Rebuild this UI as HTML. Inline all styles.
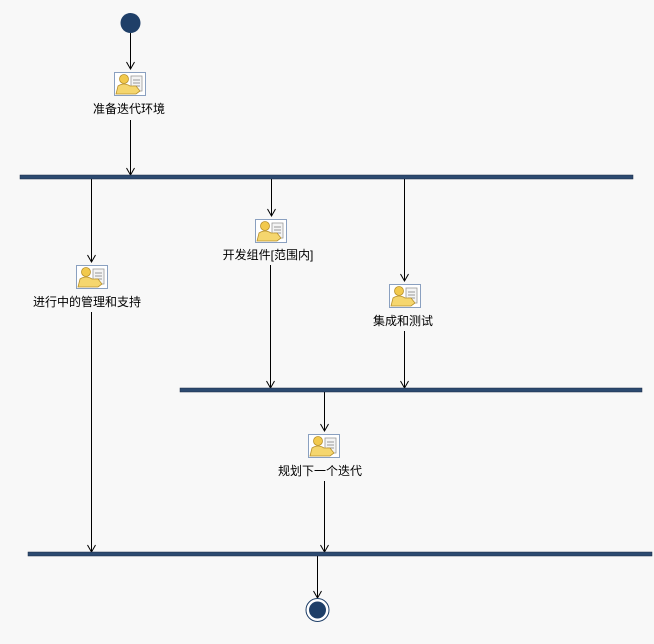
<!DOCTYPE html>
<html><head><meta charset="utf-8"><style>
html,body{margin:0;background:#f8f8f8;overflow:hidden;}
svg{display:block;}
svg text{font-family:"Liberation Sans","Noto Sans CJK SC",sans-serif;font-size:12px;fill:#000;}
</style></head><body>
<svg width="654" height="644" xmlns="http://www.w3.org/2000/svg">
<defs>
<marker id="a" markerWidth="10" markerHeight="10" refX="9" refY="5" orient="auto" markerUnits="userSpaceOnUse">
<path d="M2,1 L9,5 L2,9" fill="none" stroke="#000" stroke-width="1"/></marker>
<g id="ic">
<rect x="0.5" y="0.5" width="31" height="23" fill="#fff" stroke="#8aa0c0"/>
<rect x="17" y="4" width="11" height="15" fill="#f4f4f4" stroke="#999" stroke-width="0.8"/>
<line x1="19" y1="8" x2="26" y2="8" stroke="#999"/><line x1="19" y1="11" x2="26" y2="11" stroke="#999"/><line x1="19" y1="14" x2="26" y2="14" stroke="#999"/>
<circle cx="10" cy="7" r="4.5" fill="#f2c94c" stroke="#b8902a" stroke-width="0.8"/>
<path d="M2,22 L4,14 Q10,10 16,14 L22,14 L26,19 L22,22 Z" fill="#f5d66e" stroke="#b8902a" stroke-width="0.8"/>
</g>
</defs>
<g stroke="#000" stroke-width="1" fill="none" marker-end="url(#a)">
<line x1="130.5" y1="33" x2="130.5" y2="69"/>
<line x1="130.5" y1="120" x2="130.5" y2="175"/>
<line x1="91.5" y1="179" x2="91.5" y2="262"/>
<line x1="271.5" y1="179" x2="271.5" y2="216"/>
<line x1="404.5" y1="179" x2="404.5" y2="281"/>
<line x1="91.5" y1="312" x2="91.5" y2="552"/>
<line x1="270.5" y1="265" x2="270.5" y2="388"/>
<line x1="404.5" y1="331" x2="404.5" y2="388"/>
<line x1="324.5" y1="392" x2="324.5" y2="431"/>
<line x1="324.5" y1="481" x2="324.5" y2="552"/>
<line x1="317.5" y1="556" x2="317.5" y2="598"/>
</g>
<rect x="20" y="175" width="613" height="4" fill="#2c4a70" stroke="#1a2a44" stroke-width="0.5"/>
<rect x="180" y="388" width="462" height="4" fill="#2c4a70" stroke="#1a2a44" stroke-width="0.5"/>
<rect x="28" y="552" width="624" height="4" fill="#2c4a70" stroke="#1a2a44" stroke-width="0.5"/>
<circle cx="130.5" cy="23" r="10" fill="#1f3f68"/>
<circle cx="317.5" cy="610" r="11.5" fill="#fff" stroke="#1f3f68" stroke-width="1"/>
<circle cx="317.5" cy="610" r="8.5" fill="#1f3f68"/>
<use href="#ic" x="114" y="72"/>
<use href="#ic" x="76" y="265"/>
<use href="#ic" x="255" y="219"/>
<use href="#ic" x="389" y="284"/>
<use href="#ic" x="308" y="434"/>
<text x="129" y="113" text-anchor="middle">准备迭代环境</text>
<text x="87" y="306" text-anchor="middle">进行中的管理和支持</text>
<text x="268" y="259" text-anchor="middle">开发组件[范围内]</text>
<text x="403" y="325" text-anchor="middle">集成和测试</text>
<text x="320" y="475" text-anchor="middle">规划下一个迭代</text>
</svg>
</body></html>
